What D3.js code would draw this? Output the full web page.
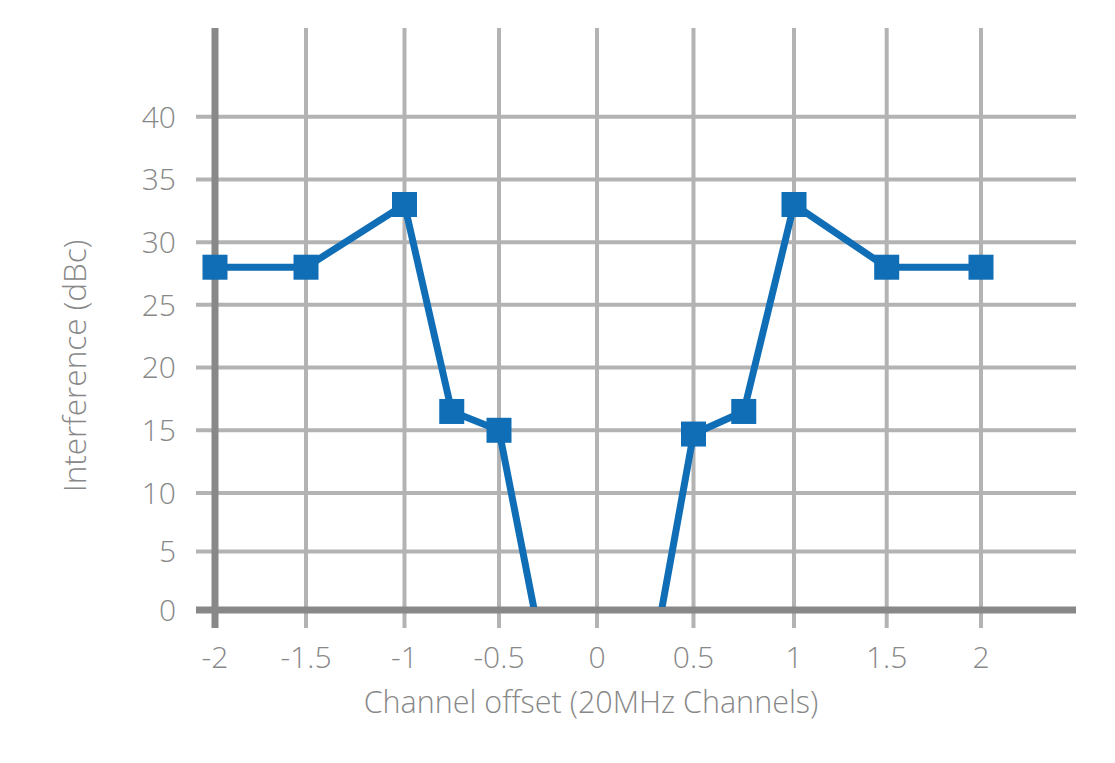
<!DOCTYPE html>
<html><head><meta charset="utf-8">
<script src="https://cdn.jsdelivr.net/npm/d3@7"></script>
<style>body{margin:0;background:#fff}svg{display:block}text{font-family:"Open Sans",Lato,sans-serif;font-weight:300;fill:#888}</style>
</head><body>
<script>
const xValues = [-2, -1.5, -1, -0.75, -0.5, -0.25, 0.25, 0.5, 0.75, 1, 1.5, 2];
const yValues = [28, 28, 33, 16.5, 15, -6, -7.7, 14.7, 16.5, 33, 28, 28];
const xTicks = [-2, -1.5, -1, -0.5, 0, 0.5, 1, 1.5, 2];
const xTickLabels = ["-2", "-1.5", "-1", "-0.5", "0", "0.5", "1", "1.5", "2"];
const yTicks = [0, 5, 10, 15, 20, 25, 30, 35, 40];
const xTitle = "Channel offset (20MHz Channels)";
const yTitle = "Interference (dBc)";

const W = 1115, H = 763;
const svg = d3.select("body").append("svg").attr("width", W).attr("height", H);
const x = d3.scaleLinear()
  .domain([-2, -1.5, -1, -0.5, 0, 0.5, 1, 1.5, 2, 2.5])
  .range([215, 306, 404.5, 499, 597, 693.5, 794, 886.7, 981, 1076]);
const y = d3.scaleLinear().domain([0, 10, 40, 47.3]).range([610, 493, 116.7, 28]);

const grid = "#b3b3b3", axisC = "#888", blue = "#106eb6";

svg.append("g").selectAll("line").data(xTicks).join("line")
  .attr("x1", d => x(d)).attr("x2", d => x(d))
  .attr("y1", y(47.3)).attr("y2", 628)
  .attr("stroke", grid).attr("stroke-width", 4);
svg.append("g").selectAll("line").data(yTicks).join("line")
  .attr("x1", 196).attr("x2", 1076)
  .attr("y1", d => y(d)).attr("y2", d => y(d))
  .attr("stroke", grid).attr("stroke-width", 4);

svg.append("line").attr("x1", x(-2)).attr("x2", x(-2)).attr("y1", y(47.3)).attr("y2", 628)
  .attr("stroke", axisC).attr("stroke-width", 7);
svg.append("line").attr("x1", 196).attr("x2", 1076).attr("y1", y(0)).attr("y2", y(0))
  .attr("stroke", axisC).attr("stroke-width", 7);

svg.append("clipPath").attr("id", "clip").append("rect")
  .attr("x", 150).attr("y", 0).attr("width", 1000).attr("height", y(0) - 3);

const data = xValues.map((v, i) => ({x: v, y: yValues[i]}));
const g = svg.append("g").attr("clip-path", "url(#clip)");
g.append("path").datum(data)
  .attr("d", d3.line().x(d => x(d.x)).y(d => y(d.y)))
  .attr("fill", "none").attr("stroke", blue).attr("stroke-width", 7).attr("stroke-linejoin", "miter");
const ms = 25;
g.selectAll("rect.m").data(data).join("rect").attr("class", "m")
  .attr("x", d => x(d.x) - ms / 2).attr("y", d => y(d.y) - ms / 2)
  .attr("width", ms).attr("height", ms).attr("fill", blue);

svg.append("g").selectAll("text").data(yTicks).join("text")
  .attr("x", 176).attr("y", d => y(d)).attr("dy", "0.36em")
  .attr("text-anchor", "end").attr("font-size", 30).text(d => d);
svg.append("g").selectAll("text").data(xTicks).join("text")
  .attr("x", d => x(d)).attr("y", 668)
  .attr("text-anchor", "middle").attr("font-size", 30).text((d, i) => xTickLabels[i]);

svg.append("text").attr("x", 591).attr("y", 713).attr("text-anchor", "middle")
  .attr("font-size", 30.5).text(xTitle);
svg.append("text").attr("transform", "translate(86,366) rotate(-90)")
  .attr("text-anchor", "middle").attr("font-size", 31.5).text(yTitle);
</script>
</body></html>
